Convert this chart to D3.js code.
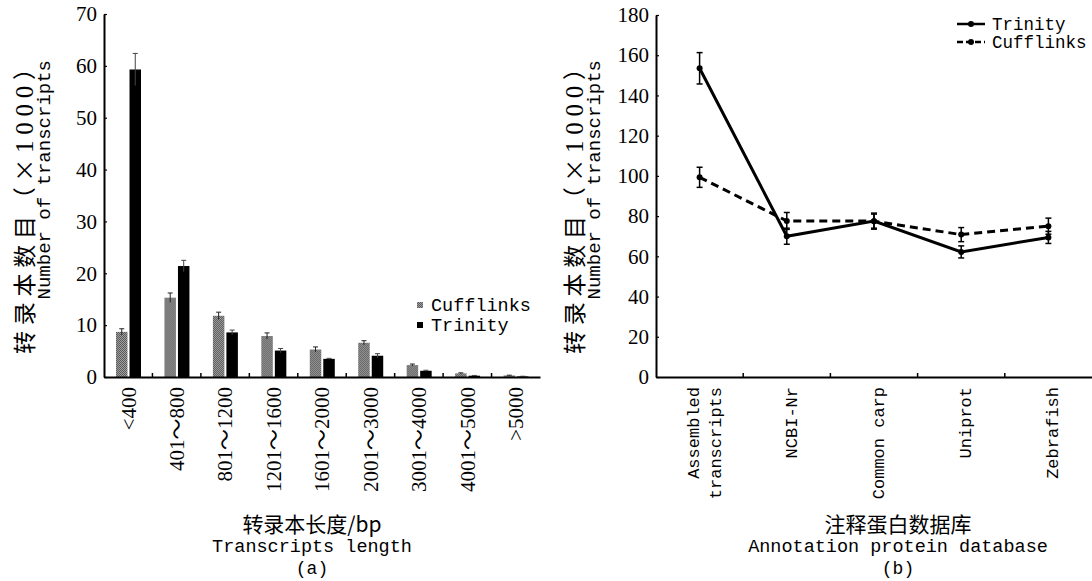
<!DOCTYPE html>
<html>
<head>
<meta charset="utf-8">
<script src="https://cdn.jsdelivr.net/npm/d3@7"></script>
<style>
  body { margin: 0; background: #fff; }
  .serif { font-family: "Liberation Serif", "Noto Sans CJK SC", serif; }
  .mono { font-family: "Liberation Mono", "Noto Sans CJK SC", monospace; }
  .cjk { font-family: "Noto Sans CJK SC", sans-serif; }
</style>
</head>
<body>
<div id="chart"></div>
<script>
// panel (a): transcripts length distribution
const lengthBins = ["<400", "401～800", "801～1200", "1201～1600", "1601～2000",
                    "2001～3000", "3001～4000", "4001～5000", ">5000"]
const cufflinksLen    = [8.7, 15.3, 11.8, 7.9, 5.3, 6.6, 2.3, 0.7, 0.3]
const cufflinksLenErr = [0.6, 0.9, 0.7, 0.6, 0.5, 0.4, 0.2, 0.1, 0.05]
const trinityLen      = [59.3, 21.4, 8.6, 5.1, 3.5, 4.1, 1.2, 0.25, 0.1]
const trinityLenErr   = [3.1, 1.1, 0.45, 0.4, 0.1, 0.4, 0.1, 0.05, 0.05]
const lenTicks = [0, 10, 20, 30, 40, 50, 60, 70]

// panel (b): annotation against protein databases
const databases = ["Assembled transcripts", "NCBI-Nr", "Common carp", "Uniprot", "Zebrafish"]
const trinityAnno      = [153.5, 70, 77.5, 62.2, 69.4]
const trinityAnnoErr   = [7.8, 4, 3.5, 3, 3]
const cufflinksAnno    = [99.3, 77.6, 77.5, 70.8, 75]
const cufflinksAnnoErr = [5, 4.2, 4, 3.5, 4]
const annoTicks = [0, 20, 40, 60, 80, 100, 120, 140, 160, 180]

const W = 1092, H = 581

const svg = d3.select("#chart").append("svg")
    .attr("width", W).attr("height", H)
    .attr("viewBox", `0 0 ${W} ${H}`)

const defs = svg.append("defs")
const pat = defs.append("pattern")
    .attr("id", "hatch").attr("patternUnits", "userSpaceOnUse")
    .attr("width", 2).attr("height", 2)
pat.append("rect").attr("width", 2).attr("height", 2).attr("fill", "#a0a0a0")
pat.append("rect").attr("width", 1).attr("height", 1).attr("fill", "#5a5a5a")
pat.append("rect").attr("x", 1).attr("y", 1).attr("width", 1).attr("height", 1).attr("fill", "#5a5a5a")

// y-axis title, two rotated lines ending near the top
const yTitle = (cx) => {
    const t = svg.append("text").attr("class", "cjk")
        .attr("transform", `translate(${cx},57) rotate(-90)`)
        .attr("text-anchor", "end").attr("dy", "0.35em")
        .attr("font-size", 23)
        .attr("textLength", 297).attr("lengthAdjust", "spacing")
    t.append("tspan").text("转录本数目（×")
    t.append("tspan").attr("class", "serif").attr("font-size", 25).text("1000")
    t.append("tspan").text("）")
    svg.append("text").attr("class", "mono")
        .attr("transform", `translate(${cx + 18},60) rotate(-90)`)
        .attr("text-anchor", "end").attr("dy", "0.35em")
        .attr("font-size", 19)
        .text("Number of transcripts")
}

const xTitle = (cx, cn, en, tag) => {
    svg.append("text").attr("class", "cjk").attr("x", cx).attr("y", 525)
        .attr("dy", "0.35em").attr("text-anchor", "middle").attr("font-size", 21).text(cn)
    svg.append("text").attr("class", "mono").attr("x", cx).attr("y", 546)
        .attr("dy", "0.35em").attr("text-anchor", "middle").attr("font-size", 18.5).text(en)
    svg.append("text").attr("class", "mono").attr("x", cx).attr("y", 568)
        .attr("dy", "0.35em").attr("text-anchor", "middle").attr("font-size", 18).text(tag)
}

const styleAxis = g => {
    g.select(".domain").attr("stroke", "#000").attr("stroke-width", 2)
    g.selectAll(".tick line").attr("stroke", "#000").attr("stroke-width", 1.2)
}

// ---------- panel (a) ----------
const xL = d3.scaleBand().domain(lengthBins).range([104, 540])
const xL1 = d3.scaleBand().domain(["Cufflinks", "Trinity"]).range([12, 37]).paddingInner(0.15)
const yL = d3.scaleLinear().domain([0, 70]).range([377, 14])

const lenData = lengthBins.map((b, i) => ({
    bin: b,
    vals: [
        {key: "Cufflinks", v: cufflinksLen[i], e: cufflinksLenErr[i]},
        {key: "Trinity", v: trinityLen[i], e: trinityLenErr[i]}
    ]
}))

const groups = svg.append("g").selectAll("g.grp")
    .data(lenData).join("g").attr("class", "grp")
    .attr("transform", d => `translate(${xL(d.bin)},0)`)

groups.selectAll("rect").data(d => d.vals).join("rect")
    .attr("x", d => xL1(d.key))
    .attr("width", xL1.bandwidth())
    .attr("y", d => yL(d.v))
    .attr("height", d => yL(0) - yL(d.v))
    .attr("fill", d => d.key === "Cufflinks" ? "url(#hatch)" : "#000")

// error bars
groups.selectAll("g.err").data(d => d.vals).join("g").attr("class", "err")
    .each(function(d) {
        const g = d3.select(this)
        const cx = xL1(d.key) + xL1.bandwidth() / 2
        const col = d.key === "Cufflinks" ? "#222" : "#444"
        g.append("line").attr("x1", cx).attr("x2", cx)
            .attr("y1", yL(d.v + d.e)).attr("y2", yL(Math.max(0, d.v - d.e)))
            .attr("stroke", col).attr("stroke-width", 1)
        g.append("line").attr("x1", cx - 2.5).attr("x2", cx + 2.5)
            .attr("y1", yL(d.v + d.e)).attr("y2", yL(d.v + d.e))
            .attr("stroke", col).attr("stroke-width", 1)
    })

svg.append("g").attr("transform", "translate(104,0)")
    .call(d3.axisLeft(yL).tickValues(lenTicks).tickSize(-3).tickSizeOuter(0).tickPadding(7))
    .call(styleAxis)
    .call(g => g.selectAll("text").attr("class", "serif").attr("font-size", 21).attr("fill", "#000"))

svg.append("g").attr("transform", "translate(0,377)")
    .call(d3.axisBottom(xL).tickSize(0).tickSizeOuter(0))
    .call(styleAxis)
    .call(g => g.selectAll("text")
        .attr("class", "serif").attr("font-size", 21).attr("fill", "#000")
        .attr("transform", "rotate(-90)").attr("text-anchor", "end")
        .attr("x", -10).attr("y", 0).attr("dy", "0.35em"))

// group boundary ticks
svg.append("g").selectAll("line").data(lengthBins.slice(1)).join("line")
    .attr("x1", d => xL(d)).attr("x2", d => xL(d))
    .attr("y1", 377).attr("y2", 373)
    .attr("stroke", "#000").attr("stroke-width", 1.5)

// legend (a)
const legA = svg.append("g").selectAll("g").data(["Cufflinks", "Trinity"]).join("g")
    .attr("transform", (d, i) => `translate(417,${305 + i * 20})`)
legA.append("rect").attr("x", 0).attr("y", -3).attr("width", 6).attr("height", 6)
    .attr("fill", d => d === "Cufflinks" ? "url(#hatch)" : "#000")
legA.append("text").attr("class", "mono").attr("x", 14).attr("dy", "0.35em")
    .attr("font-size", 18.5).text(d => d)

yTitle(25)
xTitle(312, "转录本长度/bp", "Transcripts length", "(a)")

// ---------- panel (b) ----------
const xR = d3.scaleBand().domain(databases).range([656, 1092])
const yR = d3.scaleLinear().domain([0, 180]).range([377, 15])
const cxR = d => xR(d) + xR.bandwidth() / 2

const series = [
    {key: "Trinity", vals: trinityAnno, errs: trinityAnnoErr, dash: null},
    {key: "Cufflinks", vals: cufflinksAnno, errs: cufflinksAnnoErr, dash: "8,5"}
]

const line = d3.line().x(d => cxR(d.cat)).y(d => yR(d.v))

series.forEach(s => {
    const pts = databases.map((c, i) => ({cat: c, v: s.vals[i], e: s.errs[i]}))
    const g = svg.append("g")
    g.append("path").datum(pts).attr("d", line)
        .attr("fill", "none").attr("stroke", "#000").attr("stroke-width", 3)
        .attr("stroke-dasharray", s.dash)
    const eb = g.selectAll("g.eb").data(pts).join("g").attr("class", "eb")
    eb.append("line").attr("x1", d => cxR(d.cat)).attr("x2", d => cxR(d.cat))
        .attr("y1", d => yR(d.v + d.e)).attr("y2", d => yR(d.v - d.e))
        .attr("stroke", "#000").attr("stroke-width", 1.5)
    eb.selectAll("line.cap").data(d => [d.v + d.e, d.v - d.e].map(y => ({cat: d.cat, y})))
        .join("line").attr("class", "cap")
        .attr("x1", d => cxR(d.cat) - 3).attr("x2", d => cxR(d.cat) + 3)
        .attr("y1", d => yR(d.y)).attr("y2", d => yR(d.y))
        .attr("stroke", "#000").attr("stroke-width", 1.5)
    eb.append("circle").attr("cx", d => cxR(d.cat)).attr("cy", d => yR(d.v))
        .attr("r", 3).attr("fill", "#000")
})

svg.append("g").attr("transform", "translate(656,0)")
    .call(d3.axisLeft(yR).tickValues(annoTicks).tickSize(-3).tickSizeOuter(0).tickPadding(7))
    .call(styleAxis)
    .call(g => g.selectAll("text").attr("class", "serif").attr("font-size", 21).attr("fill", "#000"))

svg.append("g").attr("transform", "translate(0,377)")
    .call(d3.axisBottom(xR).tickSize(0).tickSizeOuter(0).tickFormat(""))
    .call(styleAxis)

svg.append("g").selectAll("line").data(databases.slice(1)).join("line")
    .attr("x1", d => xR(d)).attr("x2", d => xR(d))
    .attr("y1", 377).attr("y2", 373)
    .attr("stroke", "#000").attr("stroke-width", 1.5)

// rotated category labels, "Assembled transcripts" wraps onto two lines
databases.forEach(c => {
    const words = c === "Assembled transcripts" ? ["Assembled", "transcripts"] : [c]
    words.forEach((w, j) => {
        const off = (j - (words.length - 1) / 2) * 22
        svg.append("text").attr("class", "mono").attr("font-size", 17)
            .attr("transform", `translate(${cxR(c) + off + 4},387) rotate(-90)`)
            .attr("text-anchor", "end").attr("dy", "0.35em")
            .text(w)
    })
})

// legend (b)
const legB = svg.append("g").selectAll("g").data(series).join("g")
    .attr("transform", (d, i) => `translate(957,${24 + i * 18})`)
legB.append("line").attr("x1", 0).attr("x2", 28)
    .attr("stroke", "#000").attr("stroke-width", 2.5)
    .attr("stroke-dasharray", d => d.dash ? "6,3" : null)
legB.append("circle").attr("cx", 14).attr("r", 3).attr("fill", "#000")
legB.append("text").attr("class", "mono").attr("x", 35).attr("dy", "0.32em")
    .attr("font-size", 17.5).text(d => d.key)

yTitle(575)
xTitle(898, "注释蛋白数据库", "Annotation protein database", "(b)")
</script>
</body>
</html>
